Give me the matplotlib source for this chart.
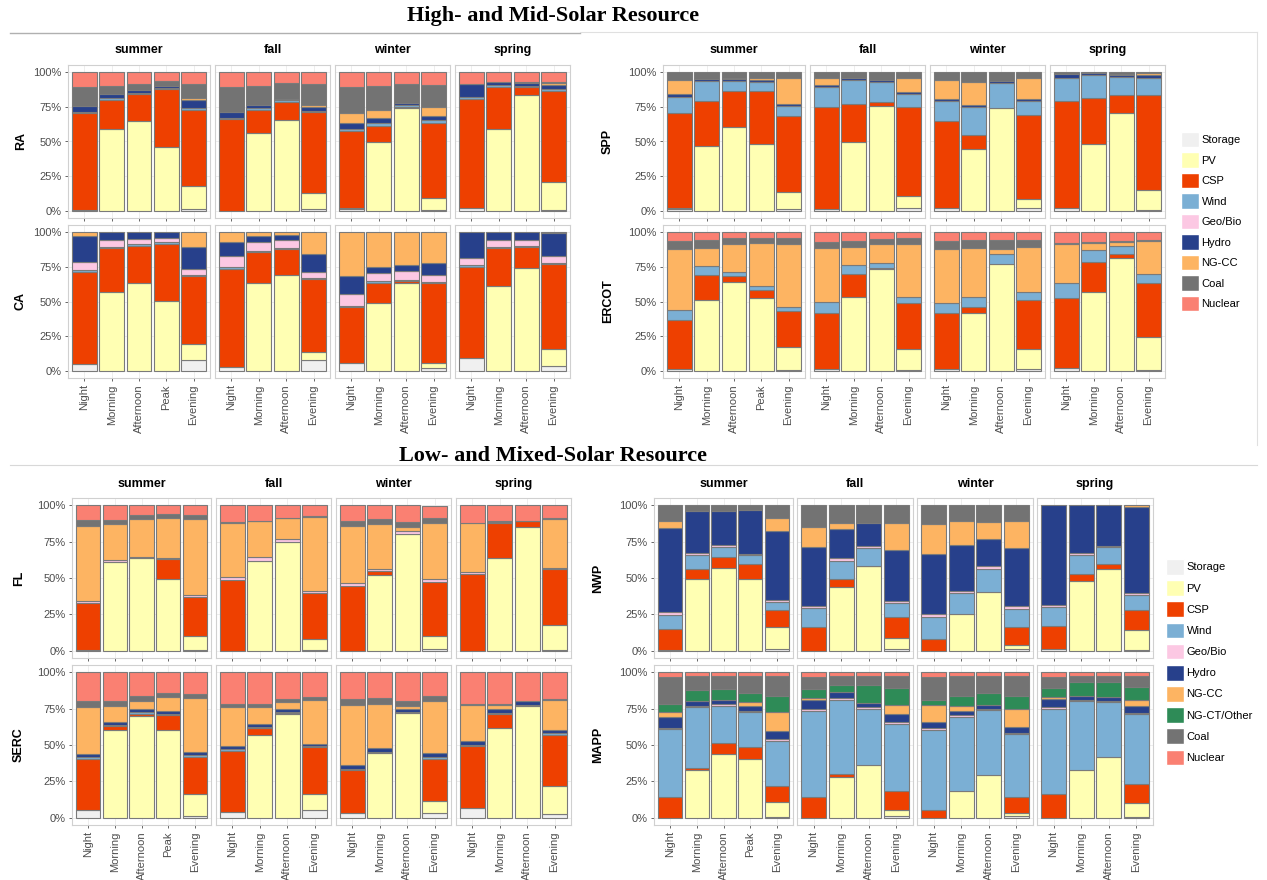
import numpy as np
import matplotlib.pyplot as plt
from matplotlib.patches import Patch
from matplotlib.lines import Line2D

plt.rcParams['font.family'] = ['Liberation Sans', 'DejaVu Sans']

W, H = 1267, 880

# Generation mix shares (%), bars in order:
# summer Night/Morning/Afternoon/Peak/Evening, fall N/M/A/E, winter N/M/A/E, spring N/M/A/E
RA = {
    "Storage": [1, 0, 0, 0, 1.5, 0, 0, 0, 1.5, 1.5, 0, 0, 1, 2.5, 0, 0, 1],
    "PV": [0, 59, 65, 46, 16.5, 0, 56, 65.5, 11.5, 0.5, 49.5, 74, 8.5, 0, 59, 83.5, 20],
    "CSP": [69.5, 21, 19, 42, 55, 66, 16.5, 13, 58, 55.5, 12, 0.5, 54, 78, 30, 5.5, 65.5],
    "Wind": [1, 1.5, 1, 0.5, 1, 1, 1.5, 1, 1, 1.5, 1.5, 1.5, 2, 1.5, 1.5, 1, 1],
    "Hydro": [4, 2.5, 2, 1.5, 5.5, 4, 2, 1, 3, 4, 4, 2, 3, 9, 2, 2, 3],
    "NG-CC": [0, 0, 0, 0, 1.5, 0, 0, 0, 1.5, 7.5, 5.5, 0, 6.5, 0, 0, 0, 1.5],
    "Coal": [14, 6, 4.5, 3.5, 10.5, 18, 14, 11.5, 15, 19, 17.5, 13, 15.5, 0.5, 0.5, 0.5, 1],
    "Nuclear": [10.5, 10, 8.5, 6.5, 8.5, 11, 10, 8, 8.5, 10.5, 10, 9, 9.5, 8.5, 7, 7.5, 7],
}
CA = {
    "Storage": [5, 0, 0, 0, 8, 3, 0, 0, 8, 6, 0, 0, 2.5, 9.5, 0, 0, 3.5],
    "PV": [0, 57, 63, 50.5, 11.5, 0, 63, 69, 5.5, 0, 49, 63, 3, 0, 61.5, 74, 12],
    "CSP": [66.5, 31.5, 27, 41, 48.5, 70.5, 22.5, 18.5, 52.5, 40, 14, 1.5, 57.5, 65.5, 27, 15, 61.5],
    "Wind": [1, 1, 1, 1, 1, 1, 1, 1, 1, 1, 1.5, 1, 1, 1, 1, 1, 1],
    "Geo/Bio": [6, 4.5, 4, 3, 4.5, 8, 6, 5.5, 4.5, 8.5, 6, 6.5, 5, 5.5, 5, 4.5, 4.5],
    "Hydro": [18.5, 6, 5, 4.5, 15.5, 10.5, 4.5, 3.5, 13, 12.5, 4, 4, 9, 18.5, 5.5, 5.5, 16.5],
    "NG-CC": [3, 0, 0, 0, 11, 7, 3, 2.5, 15.5, 32, 25.5, 24, 22, 0, 0, 0, 1],
}
SPP = {
    "Storage": [1.5, 0, 0, 0, 1.5, 1.5, 0, 0, 2.5, 2.5, 0, 0, 2, 2, 0, 0, 1],
    "PV": [0.5, 47, 60.5, 48.5, 12.5, 0, 49.5, 75.5, 8.5, 0, 44.5, 74, 7, 0, 48.5, 70.5, 14],
    "CSP": [68.5, 32, 25.5, 37.5, 54, 73, 27.5, 3, 64, 62, 10.5, 0, 60, 77, 33, 13, 68.5],
    "Wind": [11.5, 14.5, 7.5, 6.5, 7.5, 14.5, 17, 14.5, 9.5, 14.5, 20, 18, 10, 17, 16.5, 13, 12.5],
    "Hydro": [2, 1.5, 1.5, 1.5, 1.5, 1.5, 1.5, 1.5, 1, 1.5, 1.5, 1.5, 1.5, 2.5, 1.5, 1.5, 2],
    "NG-CC": [10.5, 0, 1, 2, 18.5, 5.5, 0, 0, 10.5, 14, 16, 0, 15, 0, 0, 0.5, 1],
    "Coal": [5.5, 5, 4, 4, 4.5, 4, 4.5, 5.5, 4, 5.5, 7.5, 6.5, 4.5, 1.5, 0.5, 1.5, 1],
}
ERCOT = {
    "Storage": [1.5, 0, 0, 0, 1, 1.5, 0, 0, 1, 1.5, 0, 0, 1.5, 2, 0, 0, 1],
    "PV": [0, 51, 64, 52.5, 16.5, 0, 53.5, 73.5, 14.5, 0, 41.5, 77, 14.5, 0, 57, 81.5, 23.5],
    "CSP": [35.5, 18, 4.5, 6, 25.5, 40.5, 16, 0.5, 33.5, 40, 4.5, 0, 35, 50.5, 21.5, 2.5, 38.5],
    "Wind": [7, 6.5, 3, 3, 3, 7.5, 6.5, 4, 4, 7.5, 7.5, 7, 6, 11, 8.5, 6, 7],
    "NG-CC": [43.5, 13, 19.5, 30.5, 45, 39, 13, 13, 38.5, 38.5, 35, 3.5, 32.5, 28, 5, 3, 23.5],
    "Coal": [6, 5.5, 4.5, 4, 4.5, 4.5, 4.5, 4, 4, 6, 5.5, 6.5, 5, 0.5, 0.5, 0.5, 0.5],
    "Nuclear": [6.5, 6, 4.5, 4, 4.5, 7, 6.5, 5, 4.5, 6.5, 6, 6, 5.5, 8, 7.5, 6.5, 6],
}
FL = {
    "Storage": [0.5, 0, 0, 0, 0.5, 0, 0, 0, 0.5, 0, 0, 0, 1, 0, 0, 0, 0.5],
    "PV": [0, 61, 63.5, 49, 9.5, 0, 62, 75, 7.5, 0, 52, 80, 9, 0, 63.5, 85, 17.5],
    "CSP": [32.5, 0, 0, 14, 27, 48.5, 0, 0, 32, 44.5, 3, 0, 37.5, 53, 24.5, 4, 38],
    "Geo/Bio": [1, 1.5, 1, 1, 1.5, 2, 2.5, 1.5, 1, 2, 1.5, 2, 1.5, 1, 0, 0, 1],
    "NG-CC": [52, 24.5, 26, 27, 52, 37.5, 24.5, 14.5, 51, 39, 30.5, 3, 39, 33.5, 0.5, 0, 33.5],
    "Coal": [4, 3, 2.5, 3, 2.5, 0.5, 0.5, 0.5, 0.5, 3.5, 3.5, 3.5, 3, 0, 0.5, 0.5, 0.5],
    "Nuclear": [10, 10, 7, 6, 7, 11.5, 10.5, 8.5, 7.5, 11, 9.5, 11.5, 8.5, 12.5, 11, 10.5, 9],
}
SERC = {
    "Storage": [5, 0, 0, 0, 1.5, 4, 0, 0, 5.5, 3, 0, 0, 3, 6.5, 0, 0, 2.5],
    "PV": [0, 60, 70, 60, 14.5, 0, 57, 71.5, 10.5, 0, 44.5, 72, 8.5, 0, 62, 77, 19],
    "CSP": [35.5, 3, 1.5, 10.5, 26, 42, 4.5, 0.5, 32.5, 29.5, 0, 0, 29, 42.5, 9, 0, 35.5],
    "Wind": [1, 1, 1, 1, 1, 1, 1, 0.5, 1, 1, 1, 1, 1, 1, 1, 0.5, 1],
    "Hydro": [2.5, 1.5, 2, 2, 2, 2.5, 2, 2, 1.5, 3, 2.5, 2, 3, 3, 3, 2.5, 2.5],
    "NG-CC": [32, 11.5, 6, 9.5, 37, 26.5, 11.5, 5, 30, 41, 30.5, 1.5, 35.5, 24.5, 2.5, 0, 20.5],
    "Coal": [4, 3.5, 3, 2.5, 3, 2.5, 2.5, 2, 2, 4, 3.5, 4, 3.5, 0.5, 1, 0.5, 0.5],
    "Nuclear": [20, 19.5, 16.5, 14.5, 15, 21.5, 21.5, 18.5, 17, 18.5, 18, 19.5, 16.5, 22, 21.5, 19.5, 18.5],
}
NWP = {
    "Storage": [0.5, 0, 0, 0, 1, 0, 0, 0, 1, 0, 0, 0, 1, 1, 0, 0, 0.5],
    "PV": [0, 49, 57, 49.5, 15, 0, 44, 58, 7.5, 0, 25, 40.5, 3, 0, 48, 56, 13.5],
    "CSP": [14.5, 7, 7.5, 10, 12, 16, 5.5, 0.5, 14.5, 8, 0, 0, 12, 16, 4.5, 3.5, 14],
    "Wind": [9.5, 10, 7, 6, 5.5, 13.5, 12.5, 12, 10, 15.5, 14.5, 16, 13, 13, 13, 11.5, 10.5],
    "Geo/Bio": [2, 1.5, 1, 1, 1.5, 1.5, 1.5, 1.5, 1.5, 1.5, 1.5, 1.5, 1.5, 1.5, 1.5, 1, 1.5],
    "Hydro": [58, 28.5, 23.5, 30, 47, 40, 20, 15.5, 34.5, 41.5, 32, 18.5, 40, 68.5, 33, 28, 59],
    "NG-CC": [4.5, 0, 0, 0, 9, 14, 4, 0, 18.5, 20.5, 16, 12, 18.5, 0, 0, 0, 1],
    "Coal": [11, 4, 4, 3.5, 9, 15, 12.5, 12.5, 12.5, 13, 11, 11.5, 11, 0, 0, 0, 0],
}
MAPP = {
    "Storage": [0, 0, 0, 0, 0.5, 0, 0, 0, 1, 0, 0, 0, 1, 0, 0, 0, 0.5],
    "PV": [0, 32.5, 43.5, 40.5, 10.5, 0, 28, 36.5, 4.5, 0, 18.5, 29.5, 2, 0, 33, 41.5, 9.5],
    "CSP": [14.5, 2, 8, 8, 11, 14, 2, 0, 13, 5.5, 0, 0, 11.5, 16, 0, 0, 13],
    "Wind": [46.5, 41.5, 25.5, 24, 30.5, 59.5, 51, 38.5, 46, 55, 51, 44.5, 43, 59, 47, 38, 48],
    "Geo/Bio": [1, 1, 1, 1, 1.5, 1.5, 1, 1, 1.5, 1, 1, 1, 1, 1, 1, 1, 1],
    "Hydro": [7, 3, 3, 3.5, 5.5, 6, 4.5, 3, 5, 4.5, 3, 2.5, 4, 5.5, 2.5, 2.5, 5],
    "NG-CC": [3.5, 0, 0, 2.5, 13, 1.5, 0, 0, 6.5, 11.5, 3, 0, 12, 1.5, 0, 0, 4],
    "NG-CT/Other": [5.5, 8, 7.5, 6.5, 11, 6, 4.5, 12.5, 12, 3.5, 7.5, 8, 9, 6, 9.5, 10, 9],
    "Coal": [18.5, 9.5, 9, 11.5, 14, 8, 6.5, 6, 8, 16, 13.5, 12, 14, 7.5, 4.5, 4.5, 7.5],
    "Nuclear": [3.5, 2.5, 2.5, 2.5, 2.5, 3.5, 2.5, 2.5, 2.5, 3, 2.5, 2.5, 2.5, 3.5, 2.5, 2.5, 2.5],
}

fuels = ["Storage", "PV", "CSP", "Wind", "Geo/Bio", "Hydro", "NG-CC", "NG-CT/Other", "Coal", "Nuclear"]
colors = {
    "Storage": "#F0F0F0", "PV": "#FFFFB3", "CSP": "#EE4000", "Wind": "#7BAFD4",
    "Geo/Bio": "#FCC8E3", "Hydro": "#27408B", "NG-CC": "#FDB462",
    "NG-CT/Other": "#2E8B57", "Coal": "#737373", "Nuclear": "#FA8072",
}
seasons = ["summer", "fall", "winter", "spring"]
periods = {
    "summer": ["Night", "Morning", "Afternoon", "Peak", "Evening"],
    "fall": ["Night", "Morning", "Afternoon", "Evening"],
    "winter": ["Night", "Morning", "Afternoon", "Evening"],
    "spring": ["Night", "Morning", "Afternoon", "Evening"],
}

fig = plt.figure(figsize=(W / 100, H / 100), dpi=100)


def px_axes(x, y, w, h):
    return fig.add_axes([x / W, 1 - (y + h) / H, w / W, h / H])


def draw_block(regions, x0, tops, h, sw, ow, gap, strip_y, label_x):
    for r, (name, data) in enumerate(regions):
        start = 0
        x = x0
        for c, season in enumerate(seasons):
            labels = periods[season]
            n = len(labels)
            w = sw if season == "summer" else ow
            ax = px_axes(x, tops[r], w, h)
            pos = np.arange(n)
            bottom = np.zeros(n)
            for fuel in fuels:
                vals = np.array(data.get(fuel, [0] * 17)[start:start + n], dtype=float)
                keep = vals > 0
                ax.bar(pos[keep], vals[keep], 0.9, bottom=bottom[keep], color=colors[fuel],
                       edgecolor="#7A7A7A", linewidth=0.8, zorder=3)
                bottom += vals
            start += n
            ax.set_xlim(-0.6, n - 0.4)
            ax.set_ylim(-5, 105)
            ax.set_yticks([0, 25, 50, 75, 100])
            ax.set_xticks(pos)
            ax.grid(True, color="#EBEBEB", linewidth=0.6, zorder=0)
            for s in ax.spines.values():
                s.set_color("#D0D0D0")
                s.set_linewidth(0.8)
            ax.tick_params(colors="#4D4D4D", labelcolor="#4D4D4D", length=2.5, width=0.6,
                           labelsize=8, pad=2)
            if c == 0:
                ax.set_yticklabels(["0%", "25%", "50%", "75%", "100%"])
            else:
                ax.tick_params(axis="y", length=0, labelleft=False)
            if r == len(regions) - 1:
                ax.set_xticklabels(labels, rotation=90)
            else:
                ax.tick_params(axis="x", labelbottom=False)
            if r == 0:
                fig.text((x + w / 2) / W, 1 - strip_y / H, season, ha="center", va="center",
                         fontsize=9, fontweight="bold")
            x += w + gap
        fig.text(label_x / W, 1 - (tops[r] + h / 2) / H, name, ha="center", va="center",
                 rotation=90, fontsize=9, fontweight="bold")


draw_block([("RA", RA), ("CA", CA)], 68, [65, 225], 153, 142, 115, 5, 50, 21)
draw_block([("SPP", SPP), ("ERCOT", ERCOT)], 663, [65, 225], 153, 142, 115, 5, 50, 608)
draw_block([("FL", FL), ("SERC", SERC)], 72, [498, 665], 160, 139, 115, 5, 484, 19)
draw_block([("NWP", NWP), ("MAPP", MAPP)], 654, [498, 665], 160, 139, 116, 4, 484, 598)

# section titles and separators
fig.text(553 / W, 1 - 16 / H, "High- and Mid-Solar Resource", ha="center", va="center",
         family="Liberation Serif", fontweight="bold", fontsize=16)
fig.text(553 / W, 1 - 456 / H, "Low- and Mixed-Solar Resource", ha="center", va="center",
         family="Liberation Serif", fontweight="bold", fontsize=16)
fig.add_artist(Line2D([10 / W, 580 / W], [1 - 33 / H] * 2, color="#B0B0B0", lw=1))
fig.add_artist(Line2D([580 / W, 1257 / W], [1 - 32 / H] * 2, color="#E0E0E0", lw=0.8))
fig.add_artist(Line2D([1257 / W, 1257 / W], [1 - 32 / H, 1 - 445 / H], color="#E0E0E0", lw=0.8))
fig.add_artist(Line2D([10 / W, 1257 / W], [1 - 465 / H] * 2, color="#D8D8D8", lw=0.8))

# legends
top_fuels = [f for f in fuels if f != "NG-CT/Other"]
fig.legend([Patch(facecolor=colors[f], edgecolor="white") for f in top_fuels], top_fuels,
           loc="upper left", bbox_to_anchor=(1181 / W, 1 - 132 / H), frameon=False,
           fontsize=8, handlelength=1.6, handleheight=1.75, labelspacing=0.46,
           handletextpad=0.25, borderaxespad=0, borderpad=0)
fig.legend([Patch(facecolor=colors[f], edgecolor="white") for f in fuels], fuels,
           loc="upper left", bbox_to_anchor=(1166 / W, 1 - 559 / H), frameon=False,
           fontsize=8, handlelength=1.6, handleheight=1.8, labelspacing=0.49,
           handletextpad=0.25, borderaxespad=0, borderpad=0)

fig.savefig("out.png", dpi=100)
